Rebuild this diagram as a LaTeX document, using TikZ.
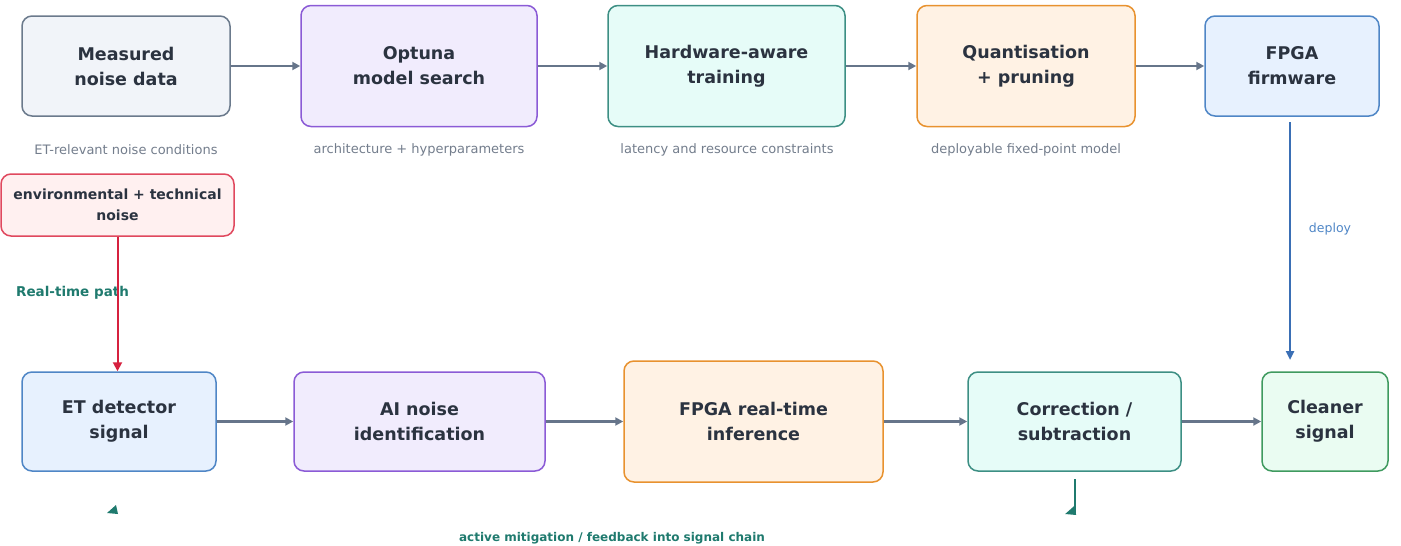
\documentclass[tikz,border=0pt]{standalone}
\usepackage{fontspec}
\setmainfont{DejaVu Sans}
\usetikzlibrary{arrows.meta}

\definecolor{ink}{HTML}{2B3340}
\definecolor{capgray}{HTML}{737D8C}
\definecolor{arrgray}{HTML}{66758A}
\definecolor{grayfill}{HTML}{F1F4F9}\definecolor{graydraw}{HTML}{6B7A8C}
\definecolor{purfill}{HTML}{F1ECFD}\definecolor{purdraw}{HTML}{8B5BD6}
\definecolor{tealfill}{HTML}{E6FCF8}\definecolor{tealdraw}{HTML}{3D8F84}
\definecolor{orgfill}{HTML}{FFF2E4}\definecolor{orgdraw}{HTML}{E8922F}
\definecolor{bluefill}{HTML}{E7F1FE}\definecolor{bluedraw}{HTML}{4F86C6}
\definecolor{grnfill}{HTML}{EAFCF2}\definecolor{grndraw}{HTML}{3F9A5F}
\definecolor{redfill}{HTML}{FFF0F0}\definecolor{reddraw}{HTML}{E0485E}
\definecolor{redarrow}{HTML}{D6213F}
\definecolor{deployblue}{HTML}{3A6FB5}
\definecolor{fbteal}{HTML}{1F7A6E}

\begin{document}
\begin{tikzpicture}[x=1pt,y=-1pt,
  box/.style={rounded corners=10pt, line width=1.5pt, align=center, text=ink,
    font=\fontsize{17.5}{25}\selectfont\bfseries, inner sep=0pt},
  boxwh/.style 2 args={minimum width=#1pt, minimum height=#2pt},
  gray box/.style={box, fill=grayfill, draw=graydraw},
  pur box/.style={box, fill=purfill, draw=purdraw},
  teal box/.style={box, fill=tealfill, draw=tealdraw},
  org box/.style={box, fill=orgfill, draw=orgdraw},
  blue box/.style={box, fill=bluefill, draw=bluedraw},
  grn box/.style={box, fill=grnfill, draw=grndraw},
  caption/.style={text=capgray, font=\fontsize{13}{15}\selectfont, inner sep=0pt},
  flow/.style={draw=arrgray, line width=2.5pt, -{Triangle[length=8pt,width=8pt]}},
]
\useasboundingbox (0,0) rectangle (1401,546);

% top row: offline design chain
\node[gray box, boxwh={208}{100}] (meas) at (126,66) {Measured\\noise data};
\node[pur box, boxwh={236}{121}] (opt) at (419,66) {Optuna\\model search};
\node[teal box, boxwh={237}{121}] (hat) at (726.5,66) {Hardware-aware\\training};
\node[org box, boxwh={218}{121}] (quant) at (1026,66) {Quantisation\\+ pruning};
\node[blue box, boxwh={174}{100}] (fw) at (1292,66) {FPGA\\firmware};

\node[caption] (c1) at (126,150) {ET-relevant noise conditions};
\node[caption] (c2) at (419,150) {architecture + hyperparameters};
\node[caption] (c3) at (727,150) {latency and resource constraints};
\node[caption] (c4) at (1026,150) {deployable fixed-point model};

\draw[flow] (meas) -- (opt);
\draw[flow] (opt) -- (hat);
\draw[flow] (hat) -- (quant);
\draw[flow] (quant) -- (fw);

% noise source feeding the detector
\node[box, fill=redfill, draw=reddraw, boxwh={233}{62},
  font=\fontsize{14}{21}\selectfont\bfseries] (env) at (117.5,205)
  {environmental + technical\\noise};
\node[text=fbteal, font=\fontsize{13.5}{15}\selectfont\bfseries, anchor=west, inner sep=0pt]
  (rt) at (16,293) {Real-time path};

% bottom row: real-time chain
\node[blue box, boxwh={194}{99}] (det) at (119,421.5) {ET detector\\signal};
\node[pur box, boxwh={251}{99}] (ai) at (419.5,421.5) {AI noise\\identification};
\node[org box, boxwh={259}{121}] (inf) at (753.5,421.5) {FPGA real-time\\inference};
\node[teal box, boxwh={213}{99}] (corr) at (1074.5,421.5) {Correction /\\subtraction};
\node[grn box, boxwh={126}{99}] (clean) at (1325,421.5) {Cleaner\\signal};

\draw[draw=redarrow, line width=2pt, -{Triangle[length=9pt,width=9pt]}]
  (env.south) -- (env.south |- det.north);

\draw[flow] (det) -- (ai);
\draw[flow] (ai) -- (inf);
\draw[flow] (inf) -- (corr);
\draw[flow] (corr) -- (clean);

% deployment of the firmware
\coordinate (fwout) at (1290,122);
\coordinate (fwin) at (1290,360);
\draw[draw=deployblue, line width=2.5pt, -{Triangle[length=9pt,width=8pt]}]
  (fwout) -- (fwin);
\node[text=bluedraw, font=\fontsize{12.5}{14}\selectfont, inner sep=0pt] (dep) at (1330,229) {deploy};

% feedback into the signal chain
\coordinate (fbtop) at (1075,479);
\coordinate (fbbot) at (1075,515);
\draw[draw=fbteal, line width=2.5pt] (fbtop) -- (fbbot);
\fill[fbteal] (fbbot) ++(1.2,0) -- ++(-11,-1) -- ++(9,-8) -- cycle;
\coordinate (fbend) at (114,512);
\fill[fbteal] (fbend) ++(-7,1) -- ++(9,-8) -- ++(2,9) -- cycle;
\node[text=fbteal, font=\fontsize{12}{14}\selectfont\bfseries, inner sep=0pt]
  (fb) at (612,538) {active mitigation / feedback into signal chain};
\end{tikzpicture}
\end{document}
